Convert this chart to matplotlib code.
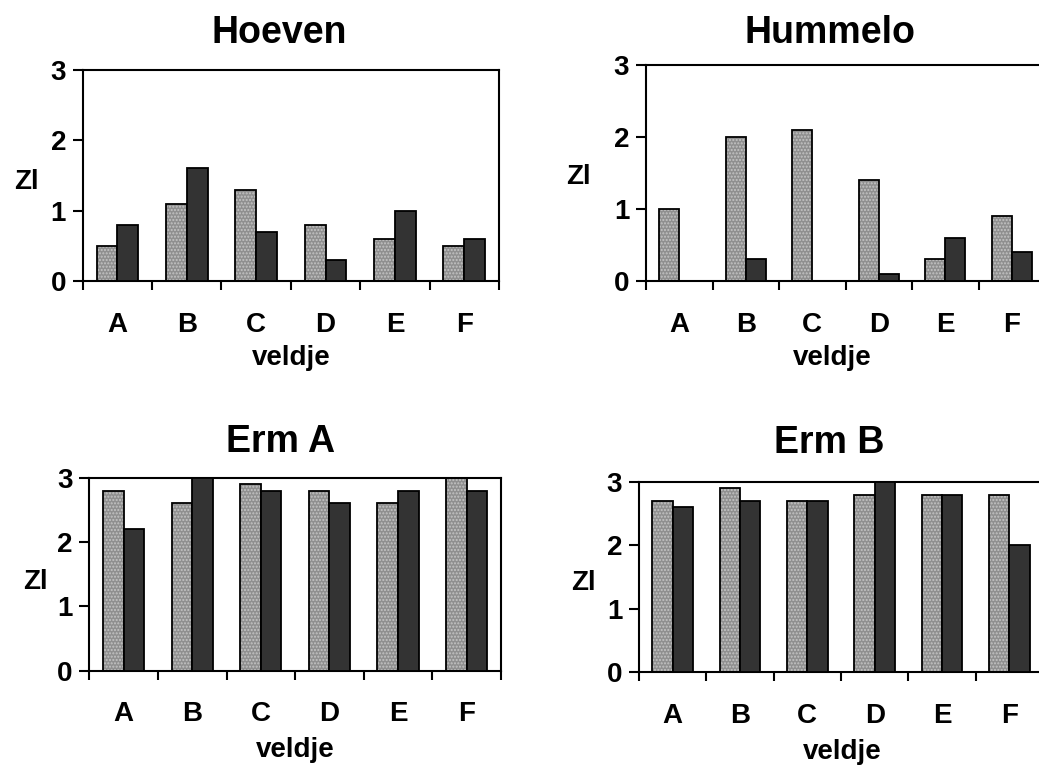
import numpy as np
import matplotlib
matplotlib.use('Agg')
import matplotlib.pyplot as plt

plt.rcParams['font.family'] = ['Liberation Sans', 'DejaVu Sans']
plt.rcParams['font.weight'] = 'bold'

velden = ['A', 'B', 'C', 'D', 'E', 'F']

titels = ['Hoeven', 'Hummelo', 'Erm A', 'Erm B']
hoeven_licht = [0.5, 1.1, 1.3, 0.8, 0.6, 0.5]
hoeven_donker = [0.8, 1.6, 0.7, 0.3, 1.0, 0.6]
hummelo_licht = [1.0, 2.0, 2.1, 1.4, 0.3, 0.9]
hummelo_donker = [0.0, 0.3, 0.0, 0.1, 0.6, 0.4]
erma_licht = [2.8, 2.6, 2.9, 2.8, 2.6, 3.0]
erma_donker = [2.2, 3.0, 2.8, 2.6, 2.8, 2.8]
ermb_licht = [2.7, 2.9, 2.7, 2.8, 2.8, 2.8]
ermb_donker = [2.6, 2.7, 2.7, 3.0, 2.8, 2.0]

reeksen = [(hoeven_licht, hoeven_donker), (hummelo_licht, hummelo_donker),
           (erma_licht, erma_donker), (ermb_licht, ermb_donker)]

# axes in figure pixels: left, bottom, right, top (figure is 1039x767)
W, H = 1039, 767
kaders = [(82.7, 281, 499, 70),
          (646, 281, 1045, 65.3),
          (89.3, 670.7, 501, 477.7),
          (639, 672.3, 1043, 482)]
# title, ylabel and xlabel centres in pixels
titel_pos = [(279, 33), (830, 33), (281, 442), (829, 443)]
zl_pos = [(26, 182), (578, 177), (35, 582), (583, 583)]
veldje_pos = [(291, 358), (832, 358), (295, 750), (842, 752)]

fig = plt.figure(figsize=(10.39, 7.67), dpi=100)

for i in range(4):
    l, b, r, t = kaders[i]
    ax = fig.add_axes([l / W, 1 - b / H, (r - l) / W, (b - t) / H])
    licht, donker = reeksen[i]
    x = np.arange(len(velden))
    w = 0.3
    # stippled light bars: grey fill with fine dot hatch, then a black outline
    ax.bar(x - w / 2, licht, w, color='#8f8f8f', edgecolor='#c4c4c4',
           hatch='.....', linewidth=0, zorder=2)
    ax.bar(x - w / 2, licht, w, fill=False, edgecolor='black',
           linewidth=1.3, zorder=3)
    ax.bar(x + w / 2, donker, w, color='#333333', edgecolor='black',
           linewidth=1.3, zorder=3)

    ax.set_xlim(-0.5, 5.5)
    ax.set_ylim(0, 3)
    ax.set_yticks([0, 1, 2, 3])
    ax.tick_params(axis='y', direction='out', length=7, width=1.5,
                   labelsize=20, pad=5)
    # tick marks between fields, labels at the field centres
    ax.set_xticks(np.arange(-0.5, 6, 1))
    ax.set_xticklabels([])
    ax.tick_params(axis='x', which='major', direction='out', length=6.5,
                   width=1.5)
    ax.set_xticks(x, minor=True)
    ax.set_xticklabels(velden, minor=True)
    ax.tick_params(axis='x', which='minor', length=0, labelsize=20, pad=22)
    for s in ax.spines.values():
        s.set_linewidth(1.5)

    fig.text(titel_pos[i][0] / W, 1 - titel_pos[i][1] / H, titels[i],
             ha='center', va='center', fontsize=27, fontweight='bold')
    fig.text(zl_pos[i][0] / W, 1 - zl_pos[i][1] / H, 'Zl',
             ha='center', va='center', fontsize=20, fontweight='bold')
    fig.text(veldje_pos[i][0] / W, 1 - veldje_pos[i][1] / H, 'veldje',
             ha='center', va='center', fontsize=20, fontweight='bold')

fig.savefig('out.png', dpi=100)
